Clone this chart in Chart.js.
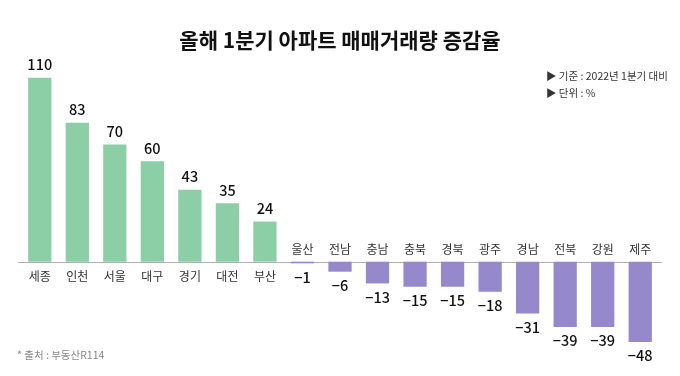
<!DOCTYPE html>
<html><head><meta charset="utf-8">
<script src="https://cdn.jsdelivr.net/npm/chart.js@4"></script>
<style>
html,body{margin:0;padding:0;background:#fff;}
#wrap{position:relative;width:680px;height:376px;}
</style></head>
<body><div id="wrap"><canvas id="c" width="680" height="376"></canvas></div>
<script>
const categories = ['세종','인천','서울','대구','경기','대전','부산','울산','전남','충남','충북','경북','광주','경남','전북','강원','제주'];
const values = [110,83,70,60,43,35,24,-1,-6,-13,-15,-15,-18,-31,-39,-39,-48];
const valueLabels = ['110','83','70','60','43','35','24','−1','−6','−13','−15','−15','−18','−31','−39','−39','−48'];
const title = '올해 1분기 아파트 매매거래량 증감율';
const notes = ['▶ 기준 : 2022년 1분기 대비','▶ 단위 : %'];
const source = '* 출처 : 부동산R114';

const GREEN = '#8ccea5', PURPLE = '#9589cc';
const FONT = '"Noto Sans CJK KR", "Noto Sans", sans-serif';

const overlay = {
  id:'overlay',
  beforeDatasetsDraw(chart){
    const ctx = chart.ctx, y = chart.scales.y;
    const y0 = Math.round(y.getPixelForValue(0)) + 0.5;
    ctx.save();
    ctx.strokeStyle = '#b0b0b0'; ctx.lineWidth = 1;
    ctx.beginPath(); ctx.moveTo(18,y0); ctx.lineTo(662,y0); ctx.stroke();
    ctx.restore();
  },
  afterDatasetsDraw(chart){
    const ctx = chart.ctx, y = chart.scales.y;
    const meta = chart.getDatasetMeta(0);
    const y0 = y.getPixelForValue(0);
    ctx.save();
    ctx.textAlign = 'center'; ctx.textBaseline = 'middle';
    meta.data.forEach((bar,i)=>{
      const v = values[i];
      ctx.fillStyle = '#333';
      ctx.font = '12px ' + FONT;
      if (v >= 0) ctx.fillText(categories[i], bar.x, y0 + 15);
      else ctx.fillText(categories[i], bar.x, y0 - 12);
      ctx.fillStyle = '#111';
      ctx.font = '500 14.5px ' + FONT;
      if (v >= 0) ctx.fillText(valueLabels[i], bar.x, bar.y - 13);
      else ctx.fillText(valueLabels[i], bar.x, bar.y + 14);
    });
    // title
    ctx.fillStyle = '#111';
    ctx.font = 'bold 21px ' + FONT;
    ctx.fillText(title, 340, 40);
    // notes
    ctx.textAlign = 'left';
    ctx.font = '10.5px ' + FONT;
    ctx.fillStyle = '#333';
    ctx.fillText(notes[0], 546, 76);
    ctx.fillText(notes[1], 546, 93);
    ctx.fillStyle = '#888';
    ctx.fillText(source, 17, 355);
    ctx.restore();
  }
};

new Chart(document.getElementById('c'), {
  type:'bar',
  data:{ labels: categories, datasets:[{ data: values,
    backgroundColor: values.map(v => v >= 0 ? GREEN : PURPLE),
    barPercentage: 0.62, categoryPercentage: 1.0, borderWidth:0 }]},
  options:{
    responsive:false, animation:false,
    layout:{ padding:{ left:21, right:21, top:61, bottom:14 } },
    plugins:{ legend:{display:false}, tooltip:{enabled:false}, title:{display:false} },
    scales:{
      x:{ display:false },
      y:{ display:false, min:-60, max:120 }
    }
  },
  plugins:[overlay]
});
</script></body></html>
